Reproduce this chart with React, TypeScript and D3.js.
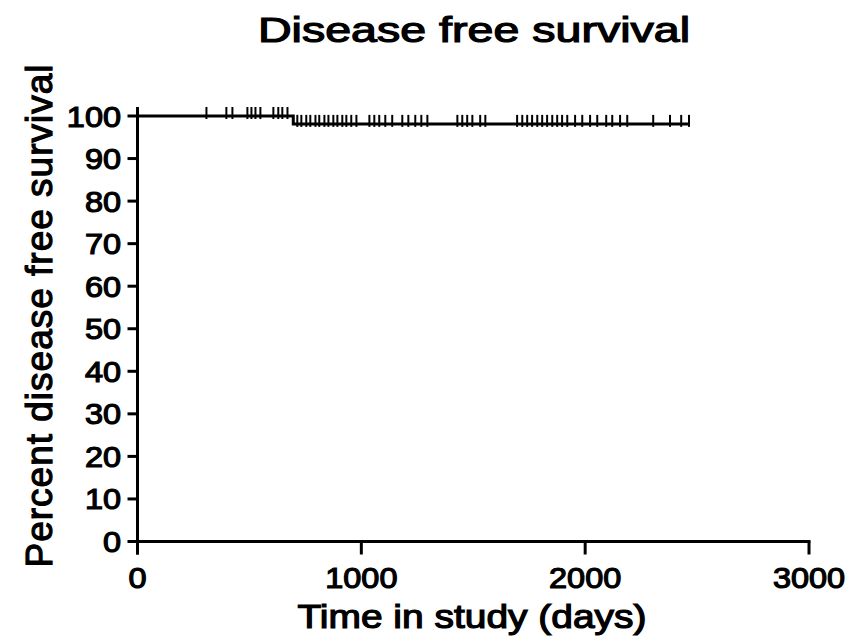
import React from "react";
import * as d3 from "d3";

// Disease-free survival follow-up (days)
const eventTimes = [696];
const censoredTimes = [
  308, 397, 424, 491, 509, 527, 549, 607, 629, 647, 670,
  714, 732, 754, 772, 795, 812, 835, 853, 875, 893, 915, 933, 955, 978,
  1036, 1058, 1080, 1107, 1138, 1183, 1210, 1241, 1268, 1295,
  1429, 1451, 1473, 1496, 1531, 1554,
  1696, 1719, 1741, 1763, 1786, 1808, 1830, 1853, 1875, 1897, 1920,
  1955, 1987, 2022, 2054, 2094, 2121, 2156, 2188, 2304, 2379, 2429, 2464,
];
const xTicks = [0, 1000, 2000, 3000];
const yTicks = [0, 10, 20, 30, 40, 50, 60, 70, 80, 90, 100];

const W = 854;
const H = 644;
const FONT = "'Liberation Sans', Arial, sans-serif";
const TICK_SX = 1.12;

type Obs = { t: number; event: boolean };

function kaplanMeier(events: number[], censored: number[]) {
  const obs: Obs[] = [
    ...events.map((t) => ({ t, event: true })),
    ...censored.map((t) => ({ t, event: false })),
  ].sort((a, b) => a.t - b.t || (a.event ? -1 : 1));
  let atRisk = obs.length;
  let s = 100;
  const steps: { t: number; s: number }[] = [{ t: 0, s }];
  const marks: { t: number; s: number }[] = [];
  for (const o of obs) {
    if (o.event) {
      s = s * (1 - 1 / atRisk);
      steps.push({ t: o.t, s });
    } else {
      marks.push({ t: o.t, s });
    }
    atRisk -= 1;
  }
  const end = obs[obs.length - 1].t;
  return { steps, marks, end };
}

export default function App() {
  const x = d3.scaleLinear().domain([0, 3000]).range([137.5, 809]);
  const y = d3.scaleLinear().domain([0, 100]).range([541.5, 116]);
  const { steps, marks, end } = kaplanMeier(eventTimes, censoredTimes);

  const pts: [number, number][] = [];
  steps.forEach((p, i) => {
    if (i > 0) pts.push([p.t, steps[i - 1].s]);
    pts.push([p.t, p.s]);
  });
  pts.push([end, steps[steps.length - 1].s]);
  const line = d3
    .line<[number, number]>()
    .x((d) => x(d[0]))
    .y((d) => y(d[1]));

  const textStyle = { stroke: "#000", strokeWidth: 1.2, paintOrder: "stroke" as const };

  return (
    <svg
      width={W}
      height={H}
      style={{ position: "absolute", left: 0, top: 0, background: "#fff" }}
      fontFamily={FONT}
    >
      <rect width={W} height={H} fill="#fff" />
      <text
        x={474}
        y={42}
        fontSize={35}
        textAnchor="middle"
        textLength={432}
        lengthAdjust="spacingAndGlyphs"
        style={textStyle}
      >
        Disease free survival
      </text>

      {/* y axis */}
      <line x1={x(0)} x2={x(0)} y1={y(0) + 13} y2={y(100) - 9} stroke="#000" strokeWidth={3} />
      {yTicks.map((v) => (
        <g key={v}>
          <line x1={x(0) - 10} x2={x(0)} y1={y(v)} y2={y(v)} stroke="#000" strokeWidth={3} />
          <g transform={`translate(121,${y(v) + 10.5}) scale(${TICK_SX},1)`}>
            <text fontSize={29} textAnchor="end" style={textStyle}>
              {v}
            </text>
          </g>
        </g>
      ))}
      <text
        transform={`translate(52,${316}) rotate(-90)`}
        fontSize={37}
        textAnchor="middle"
        textLength={503}
        lengthAdjust="spacing"
        style={textStyle}
      >
        Percent disease free survival
      </text>

      {/* x axis */}
      <line x1={x(0) - 1.5} x2={x(3000) + 1.5} y1={y(0)} y2={y(0)} stroke="#000" strokeWidth={3} />
      {xTicks.map((v) => (
        <g key={v}>
          <line x1={x(v)} x2={x(v)} y1={y(0)} y2={y(0) + 13} stroke="#000" strokeWidth={3} />
          <g transform={`translate(${x(v)},588) scale(${TICK_SX},1)`}>
            <text fontSize={29} textAnchor="middle" style={textStyle}>
              {v}
            </text>
          </g>
        </g>
      ))}
      <text
        x={472}
        y={628}
        fontSize={33}
        textAnchor="middle"
        textLength={349}
        lengthAdjust="spacingAndGlyphs"
        style={textStyle}
      >
        Time in study (days)
      </text>

      {/* survival curve */}
      <path d={line(pts) ?? ""} fill="none" stroke="#000" strokeWidth={3} />
      {marks.map((m, i) => (
        <line
          key={i}
          x1={x(m.t)}
          x2={x(m.t)}
          y1={y(m.s) - 9}
          y2={y(m.s) + 3}
          stroke="#000"
          strokeWidth={2}
        />
      ))}
    </svg>
  );
}
